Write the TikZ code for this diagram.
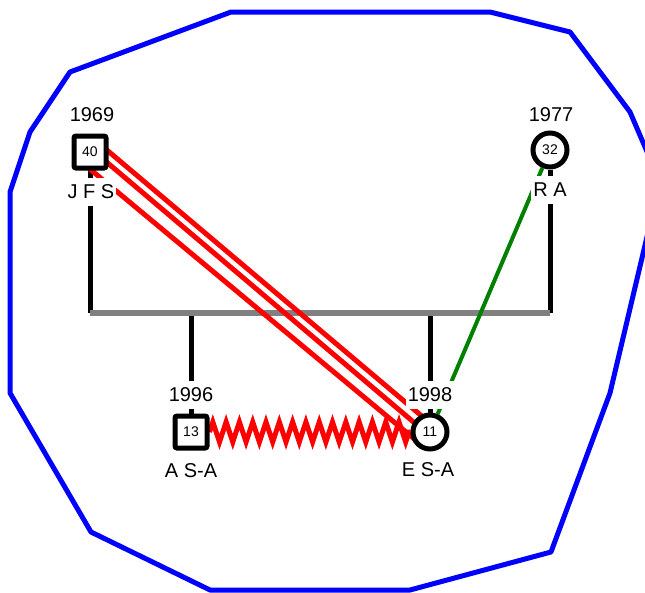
\documentclass[tikz,border=0pt]{standalone}
\usepackage{fontspec}
\setmainfont{Liberation Sans}
\usetikzlibrary{decorations.pathmorphing}
\pgfdeclarelayer{bg}
\pgfsetlayers{bg,main}
\begin{document}
\begin{tikzpicture}[x=1pt,y=-1pt,
  person/.style={draw=black, line width=5pt, fill=white, inner sep=0pt, font=\fontsize{14}{16}\selectfont},
  male/.style={person, rectangle, rounded corners=2pt, minimum size=32pt},
  female/.style={person, circle, minimum size=34pt},
  lbl/.style={fill=white, inner xsep=2pt, inner ysep=7pt, font=\fontsize{20}{24}\selectfont},
  tie/.style={draw=black, line width=5pt},
  bar/.style={draw=gray, line width=6pt},
  redline/.style={draw=red, line width=5pt},
  zz/.style={draw=red, line width=5pt, decorate, decoration={zigzag, segment length=13.3pt, amplitude=10pt}},
  greenline/.style={draw=green!50!black, line width=4pt},
  boundary/.style={draw=blue, line width=5pt, line join=round}
]
\useasboundingbox (0,0) rectangle (645,592);

% people
\node[male] (JFS) at (90,152) {40};
\node[female] (RA) at (550,150) {32};
\node[male] (ASA) at (191,432) {13};
\node[female] (ESA) at (430,432) {11};

\coordinate (barL) at (90,313);

\begin{pgfonlayer}{bg}
  \begin{scope}
    \clip (0,0) rectangle (645,592);
    \draw[boundary] (231,12) -- (490,12) -- (570,32) -- (630,112) -- (660,182)
      -- (610,393) -- (551,552) -- (410,590) -- (210,590) -- (91,532)
      -- (10,393) -- (10,192) -- (30,132) -- (70,72) -- cycle;
  \end{scope}
  \draw[tie] (JFS) -- (JFS |- barL);
  \draw[tie] (RA) -- (RA |- barL);
  \draw[tie] (ASA) -- (ASA |- barL);
  \draw[tie] (ESA) -- (ESA |- barL);
  \draw[bar] (JFS |- barL) -- (RA |- barL);
  \draw[redline] ([shift={(5,-12)}]JFS.center) -- ([shift={(0,-9)}]ESA.center);
  \draw[redline] ([shift={(0,-4)}]JFS.center) -- ([shift={(0,4)}]ESA.center);
  \draw[redline] ([shift={(-2,15.5)}]JFS.center) -- ([shift={(-12,10)}]ESA.center);
  \draw[zz] (ASA) -- (ESA);
  \draw[greenline] (RA) -- (ESA);
\end{pgfonlayer}

% labels
\node[lbl] (yJFS) at (92,115) {1969};
\node[lbl] (nJFS) at (91,192) {J F S};
\node[lbl] (yRA) at (551,115) {1977};
\node[lbl] (nRA) at (550,190) {R A};
\node[lbl] (yASA) at (191,395) {1996};
\node[lbl] (nASA) at (191,471) {A S-A};
\node[lbl] (yESA) at (430,395) {1998};
\node[lbl] (nESA) at (428,470) {E S-A};
\end{tikzpicture}
\end{document}
